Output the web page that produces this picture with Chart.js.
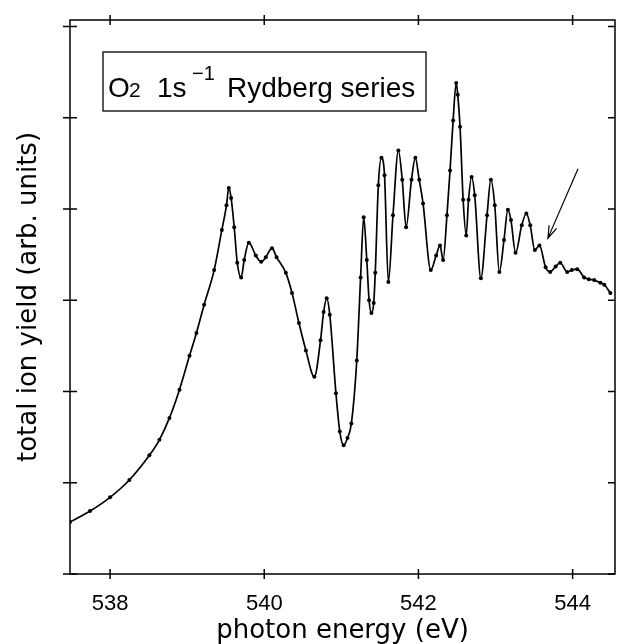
<!DOCTYPE html>
<html>
<head>
<meta charset="utf-8">
<script src="https://cdn.jsdelivr.net/npm/chart.js@4.4.0/dist/chart.umd.min.js"></script>
<style>
  html, body { margin: 0; padding: 0; background: #fff; }
  #wrap { width: 620px; height: 644px; }
</style>
</head>
<body>
<div id="wrap"><canvas id="yieldChart" width="620" height="644"></canvas></div>
<script>
// photon energy (eV)
const energy = [
  537.48, 537.74, 538.00, 538.25, 538.51, 538.64, 538.77, 538.90, 539.03, 539.12,
  539.22, 539.35, 539.45, 539.51, 539.54, 539.57, 539.61, 539.65, 539.70, 539.74,
  539.80, 539.89, 539.96, 540.02, 540.10, 540.16, 540.28, 540.36, 540.45, 540.54,
  540.65, 540.73, 540.77, 540.81, 540.85, 540.93, 540.98, 541.03, 541.08, 541.13,
  541.20, 541.25, 541.29, 541.33, 541.36, 541.39, 541.42, 541.44, 541.48, 541.52,
  541.56, 541.61, 541.67, 541.74, 541.79, 541.84, 541.91, 541.96, 542.01, 542.06,
  542.16, 542.23, 542.28, 542.32, 542.37, 542.41, 542.45, 542.49, 542.51, 542.54,
  542.58, 542.62, 542.65, 542.69, 542.73, 542.81, 542.89, 542.94, 542.99, 543.05,
  543.11, 543.16, 543.20, 543.26, 543.34, 543.40, 543.45, 543.51, 543.57, 543.65,
  543.71, 543.78, 543.84, 543.93, 543.99, 544.06, 544.15, 544.21, 544.28, 544.36,
  544.41, 544.49
];
// total ion yield (arb. units)
const ionYield = [
  0.57, 0.69, 0.84, 1.03, 1.30, 1.47, 1.71, 2.02, 2.39, 2.64,
  2.95, 3.33, 3.77, 4.04, 4.23, 4.12, 3.80, 3.41, 3.25, 3.44,
  3.63, 3.49, 3.42, 3.47, 3.57, 3.47, 3.30, 3.08, 2.75, 2.45,
  2.16, 2.56, 2.87, 3.02, 2.84, 1.98, 1.56, 1.41, 1.49, 1.65,
  2.34, 3.25, 3.91, 3.44, 3.00, 2.86, 2.97, 3.30, 4.26, 4.56,
  4.37, 3.20, 3.93, 4.64, 4.32, 3.80, 4.32, 4.56, 4.32, 4.06,
  3.33, 3.49, 3.60, 3.44, 3.93, 4.42, 4.97, 5.38, 5.25, 4.90,
  4.10, 3.71, 4.10, 4.35, 4.15, 3.24, 3.93, 4.32, 4.04, 3.31,
  3.66, 3.99, 3.88, 3.52, 3.82, 3.95, 3.82, 3.55, 3.60, 3.36,
  3.31, 3.37, 3.41, 3.31, 3.33, 3.34, 3.25, 3.23, 3.22, 3.19,
  3.17, 3.08
];
const xTicks = [538, 540, 542, 544];
const yTicks = [0, 1, 2, 3, 4, 5, 6];
// arrow pointing at the series limit: [tail, head] in data units
const arrowTail = [544.07, 4.44];
const arrowHead = [543.68, 3.68];

const fontFamily = '"Liberation Sans", Arial, sans-serif';
const titleFamily = '"DejaVu Sans", sans-serif';

// frame, crossing ticks, label box and arrow
const framePlugin = {
  id: 'frame',
  afterDraw(chart) {
    const ctx = chart.ctx;
    const a = chart.chartArea;
    const xs = chart.scales.x;
    const ys = chart.scales.y;
    ctx.save();
    ctx.strokeStyle = '#000';
    ctx.lineWidth = 1.5;
    ctx.strokeRect(a.left, a.top, a.right - a.left, a.bottom - a.top);

    ctx.beginPath();
    xTicks.forEach(v => {
      const px = xs.getPixelForValue(v);
      ctx.moveTo(px, a.bottom - 5); ctx.lineTo(px, a.bottom + 5);
      ctx.moveTo(px, a.top - 5); ctx.lineTo(px, a.top + 5);
    });
    yTicks.forEach(v => {
      const py = ys.getPixelForValue(v);
      ctx.moveTo(a.left - 7, py); ctx.lineTo(a.left + 7, py);
      ctx.moveTo(a.right - 7, py); ctx.lineTo(a.right, py);
    });
    ctx.stroke();

    // label box
    ctx.lineWidth = 1.3;
    ctx.strokeRect(103, 52, 323, 59);
    ctx.fillStyle = '#000';
    ctx.textBaseline = 'alphabetic';
    ctx.font = '28px ' + fontFamily;
    ctx.fillText('O', 108, 97);
    ctx.font = '21px ' + fontFamily;
    ctx.fillText('2', 129, 97);
    ctx.font = '28px ' + fontFamily;
    ctx.fillText('1s', 157, 97);
    ctx.font = '20px ' + fontFamily;
    ctx.fillText('\u22121', 192, 80);
    ctx.font = '28px ' + fontFamily;
    ctx.fillText('Rydberg series', 227, 97);

    // arrow
    const tx = xs.getPixelForValue(arrowTail[0]), ty = ys.getPixelForValue(arrowTail[1]);
    const hx = xs.getPixelForValue(arrowHead[0]), hy = ys.getPixelForValue(arrowHead[1]);
    const ang = Math.atan2(hy - ty, hx - tx);
    ctx.lineWidth = 1.2;
    ctx.beginPath();
    ctx.moveTo(tx, ty); ctx.lineTo(hx, hy);
    ctx.moveTo(hx - 13 * Math.cos(ang - 0.32), hy - 13 * Math.sin(ang - 0.32));
    ctx.lineTo(hx, hy);
    ctx.lineTo(hx - 13 * Math.cos(ang + 0.32), hy - 13 * Math.sin(ang + 0.32));
    ctx.stroke();
    ctx.restore();
  }
};

const points = energy.map((e, i) => ({ x: e, y: ionYield[i] }));

new Chart(document.getElementById('yieldChart'), {
  type: 'line',
  data: {
    datasets: [{
      data: points,
      borderColor: '#000',
      backgroundColor: '#000',
      borderWidth: 1.7,
      pointRadius: 2,
      pointBorderWidth: 0,
      cubicInterpolationMode: 'monotone'
    }]
  },
  options: {
    responsive: false,
    animation: false,
    layout: { padding: { top: 20, right: 5, left: 0, bottom: 0 } },
    plugins: { legend: { display: false }, tooltip: { enabled: false } },
    scales: {
      x: {
        type: 'linear',
        min: 537.48,
        max: 544.55,
        afterBuildTicks: scale => { scale.ticks = xTicks.map(v => ({ value: v })); },
        afterFit: scale => { scale.height = 70; },
        grid: { display: false, drawTicks: false },
        border: { display: false },
        ticks: {
          padding: 17,
          color: '#000',
          font: { family: fontFamily, size: 22 },
          maxRotation: 0
        },
        title: {
          display: true,
          text: 'photon energy (eV)',
          color: '#000',
          font: { family: titleFamily, size: 26, lineHeight: 1 },
          padding: { top: 0, bottom: 0 }
        }
      },
      y: {
        min: 0,
        max: 6.07,
        afterBuildTicks: scale => { scale.ticks = yTicks.map(v => ({ value: v })); },
        afterFit: scale => { scale.width = 70; },
        grid: { display: false, drawTicks: false },
        border: { display: false },
        ticks: { display: false },
        title: {
          display: true,
          text: 'total ion yield (arb. units)',
          color: '#000',
          font: { family: titleFamily, size: 26, lineHeight: 1 },
          padding: { top: 16, bottom: 0 }
        }
      }
    }
  },
  plugins: [framePlugin]
});
</script>
</body>
</html>
